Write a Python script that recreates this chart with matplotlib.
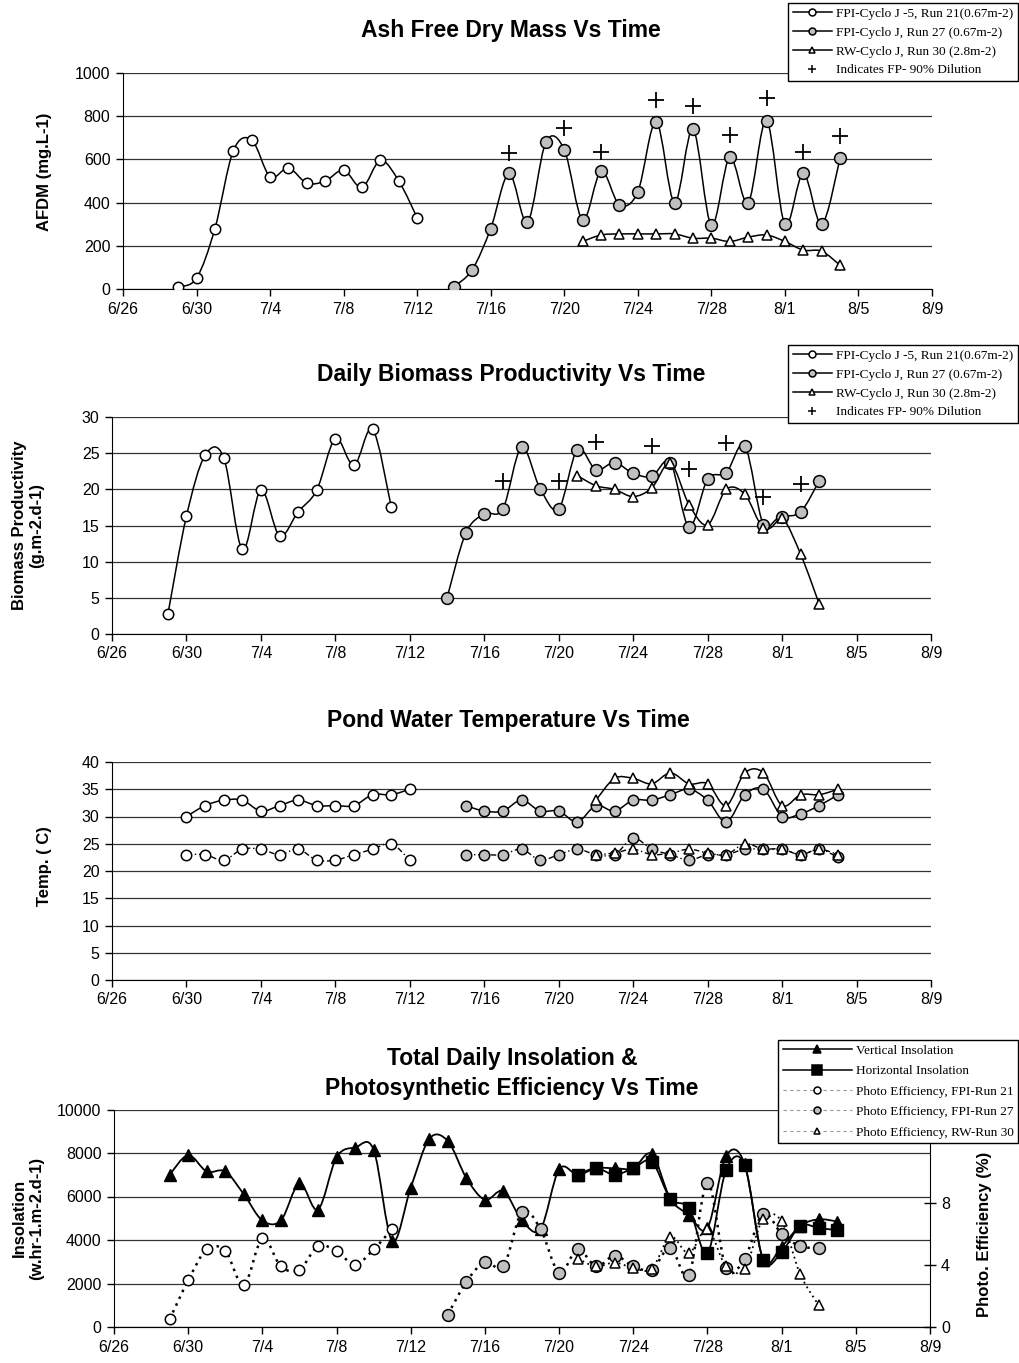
import numpy as np
import matplotlib
matplotlib.use("Agg")
import matplotlib.pyplot as plt
from matplotlib.lines import Line2D
from matplotlib.path import Path
from matplotlib.patches import PathPatch

plt.rcParams['font.family'] = ['Liberation Sans', 'DejaVu Sans']

# ── Data ───────────────────────────────────────────────────────────────────
DATES = ['6/29', '6/30', '7/1', '7/2', '7/3', '7/4', '7/5', '7/6', '7/7', '7/8',
         '7/9', '7/10', '7/11', '7/12', '7/13', '7/14', '7/15', '7/16', '7/17',
         '7/18', '7/19', '7/20', '7/21', '7/22', '7/23', '7/24', '7/25', '7/26',
         '7/27', '7/28', '7/29', '7/30', '7/31', '8/1', '8/2', '8/3', '8/4']
XTICK_LABELS = ['6/26', '6/30', '7/4', '7/8', '7/12', '7/16', '7/20', '7/24',
                '7/28', '8/1', '8/5', '8/9']

# Ash free dry mass (mg/L)
afdm_r21_start = '6/29'
afdm_r21 = [10, 50, 280, 640, 690, 520, 560, 490, 500, 550, 470, 595, 500, 330]
afdm_r27_start = '7/14'
afdm_r27 = [10, 90, 280, 535, 310, 680, 645, 320, 545, 390, 450, 775, 400, 740,
            295, 610, 400, 780, 300, 535, 300, 605]
afdm_r30_start = '7/21'
afdm_r30 = [220, 250, 255, 255, 255, 255, 235, 235, 220, 240, 250, 220, 180, 175, 110]
afdm_dil_dates = ['7/17', '7/20', '7/22', '7/25', '7/27', '7/29', '7/31', '8/2', '8/4']
afdm_dil = [630, 745, 635, 875, 845, 715, 885, 635, 710]

# Daily biomass productivity (g/m2/d)
prod_r21_start = '6/29'
prod_r21 = [2.7, 16.3, 24.7, 24.4, 11.7, 19.9, 13.6, 16.9, 19.9, 27.0, 23.3, 28.3, 17.6]
prod_r27_start = '7/14'
prod_r27 = [5.0, 13.9, 16.6, 17.3, 25.8, 20.1, 17.3, 25.5, 22.7, 23.7, 22.2, 21.8,
            23.7, 14.8, 21.4, 22.3, 26.0, 15.1, 16.2, 16.9, 21.2]
prod_r30_start = '7/21'
prod_r30 = [21.9, 20.5, 20.0, 19.0, 20.2, 23.6, 17.9, 15.1, 20.0, 19.3, 14.7, 16.0,
            11.0, 4.1]
prod_dil_dates = ['7/17', '7/20', '7/22', '7/25', '7/27', '7/29', '7/31', '8/2']
prod_dil = [21.2, 21.2, 26.6, 26.0, 22.8, 26.4, 19.0, 20.7]

# Pond water temperature (C): max (solid) and min (dashed)
temp_r21_start = '6/30'
temp_r21_max = [30, 32, 33, 33, 31, 32, 33, 32, 32, 32, 34, 34, 35]
temp_r21_min = [23, 23, 22, 24, 24, 23, 24, 22, 22, 23, 24, 25, 22]
temp_r27_start = '7/15'
temp_r27_max = [32, 31, 31, 33, 31, 31, 29, 32, 31, 33, 33, 34, 35, 33, 29, 34, 35,
                30, 30.5, 32, 34]
temp_r27_min = [23, 23, 23, 24, 22, 23, 24, 23, 23, 26, 24, 23, 22, 23, 23, 24, 24,
                24, 23, 24, 22.5]
temp_r30_start = '7/22'
temp_r30_max = [33, 37, 37, 36, 38, 36, 36, 32, 38, 38, 32, 34, 34, 35]
temp_r30_min = [23, 23.3, 24, 23, 23.3, 24, 23.3, 23, 25, 24, 24, 23, 24, 23]

# Insolation (w.hr/m2/d) and photosynthetic efficiency (%)
vert_start = '6/29'
vert_ins = [7000, 7900, 7150, 7150, 6100, 4900, 4900, 6600, 5400, 7800, 8250, 8150,
            3950, 6400, 8650, 8550, 6850, 5850, 6250, 4900, 4500, 7250, 7000, 7300,
            7300, 7300, 7950, 5900, 5150, 4550, 7850, 7500, 3100, 3700, 4650, 4950, 4850]
horiz_start = '7/21'
horiz_ins = [7000, 7300, 7000, 7300, 7600, 5900, 5450, 3400, 7200, 7450, 3100, 3450,
             4650, 4550, 4450]
eff_r21_start = '6/29'
eff_r21 = [0.5, 3.0, 5.0, 4.9, 2.7, 5.7, 3.9, 3.7, 5.2, 4.9, 4.0, 5.0, 6.3]
eff_r27_start = '7/14'
eff_r27 = [0.8, 2.9, 4.2, 3.9, 7.4, 6.3, 3.5, 5.0, 3.9, 4.6, 3.9, 3.7, 5.1, 3.35,
           9.3, 3.8, 4.4, 7.3, 6.0, 5.2, 5.1]
eff_r30_start = '7/21'
eff_r30 = [4.4, 3.9, 4.15, 3.8, 3.75, 5.8, 4.75, 6.3, 3.9, 3.75, 6.95, 6.8, 3.4, 1.4]


def to_day(s):
    m, d = map(int, s.split('/'))
    return {6: -26, 7: 4, 8: 35}[m] + d


def xs_from(start, vals):
    i0 = DATES.index(start)
    return np.array([to_day(s) for s in DATES[i0:i0 + len(vals)]], dtype=float)


def smooth(ax, x, y, **kw):
    # Excel-style smoothed line: cubic Bezier segments through the points
    pts = np.column_stack([x, y]).astype(float)
    n = len(pts)
    verts, codes = [pts[0]], [Path.MOVETO]
    for i in range(n - 1):
        p0 = pts[i - 1] if i > 0 else pts[i]
        p1, p2 = pts[i], pts[i + 1]
        p3 = pts[i + 2] if i + 2 < n else pts[i + 1]
        verts += [p1 + (p2 - p0) / 6, p2 - (p3 - p1) / 6, p2]
        codes += [Path.CURVE4] * 3
    ax.add_patch(PathPatch(Path(verts, codes), fill=False, **kw))


GRAY = '#c0c0c0'
W, H = 1020, 1363
TICK_FS = 11.5


def box(l, t, r, b):
    return [l / W, 1 - b / H, (r - l) / W, (b - t) / H]


def style(ax, ymax, ystep):
    ax.set_xlim(0, 44)
    ax.set_ylim(0, ymax)
    ax.set_xticks(np.arange(0, 45, 4))
    ax.set_xticklabels(XTICK_LABELS)
    ax.set_yticks(np.arange(0, ymax + ystep / 2, ystep))
    ax.yaxis.grid(True, color='#333333', lw=0.9)
    ax.set_axisbelow(True)
    ax.spines[['top', 'right']].set_visible(False)
    ax.tick_params(direction='out', length=5, width=1, labelsize=TICK_FS, pad=4)


def circles(ax, x, y, fc, ms=7.5, ls='-', lw=1.1, marker='o'):
    smooth(ax, x, y, ec='black', lw=lw, ls=ls, zorder=3)
    ax.plot(x, y, ls='none', marker=marker, ms=ms, mfc=fc, mec='black', mew=1.1, zorder=4)


fig = plt.figure(figsize=(W / 100, H / 100), dpi=100)

# ── Panel 1: AFDM ──────────────────────────────────────────────────────────
ax1 = fig.add_axes(box(123, 73, 932, 289))
style(ax1, 1000, 200)
circles(ax1, xs_from(afdm_r21_start, afdm_r21), afdm_r21, 'white')
circles(ax1, xs_from(afdm_r27_start, afdm_r27), afdm_r27, GRAY, ms=8.5)
circles(ax1, xs_from(afdm_r30_start, afdm_r30), afdm_r30, 'white', ms=7, marker='^')
ax1.plot([to_day(d) for d in afdm_dil_dates], afdm_dil, ls='none', marker='+',
         ms=11, mew=1.3, color='black', zorder=5)

# ── Panel 2: productivity ──────────────────────────────────────────────────
ax2 = fig.add_axes(box(112, 417, 931, 634))
style(ax2, 30, 5)
circles(ax2, xs_from(prod_r21_start, prod_r21), prod_r21, 'white')
circles(ax2, xs_from(prod_r27_start, prod_r27), prod_r27, GRAY, ms=8.5)
circles(ax2, xs_from(prod_r30_start, prod_r30), prod_r30, 'white', ms=7, marker='^')
ax2.plot([to_day(d) for d in prod_dil_dates], prod_dil, ls='none', marker='+',
         ms=11, mew=1.3, color='black', zorder=5)

# ── Panel 3: temperature ───────────────────────────────────────────────────
ax3 = fig.add_axes(box(112, 762, 931, 980))
style(ax3, 40, 5)
dash = (0, (4, 2, 1, 2))
for start, vmax, vmin, fc, mk in [(temp_r21_start, temp_r21_max, temp_r21_min, 'white', 'o'),
                                  (temp_r27_start, temp_r27_max, temp_r27_min, GRAY, 'o'),
                                  (temp_r30_start, temp_r30_max, temp_r30_min, 'white', '^')]:
    circles(ax3, xs_from(start, vmax), vmax, fc, ms=7.5, marker=mk)
    circles(ax3, xs_from(start, vmin), vmin, fc, ms=7.5, marker=mk, ls=dash, lw=1.0)

# ── Panel 4: insolation & efficiency ───────────────────────────────────────
ax4 = fig.add_axes(box(114, 1109.5, 930, 1327))
style(ax4, 10000, 2000)
xv = xs_from(vert_start, vert_ins)
smooth(ax4, xv, vert_ins, ec='black', lw=1.3, zorder=3)
ax4.plot(xv, vert_ins, ls='none', marker='^', ms=8, color='black', zorder=4)
xh = xs_from(horiz_start, horiz_ins)
smooth(ax4, xh, horiz_ins, ec='black', lw=1.3, zorder=3)
ax4.plot(xh, horiz_ins, ls='none', marker='s', ms=8, color='black', zorder=4)

ax4r = ax4.twinx()
ax4r.set_ylim(0, 14)
ax4r.set_yticks([0, 4, 8])
ax4r.spines[['top', 'left']].set_visible(False)
ax4r.tick_params(direction='inout', length=8, width=1, labelsize=TICK_FS, pad=4)
dot = (0, (1, 2))
circles(ax4r, xs_from(eff_r21_start, eff_r21), eff_r21, 'white', ls=dot, lw=1.8)
circles(ax4r, xs_from(eff_r27_start, eff_r27), eff_r27, GRAY, ms=8.5, ls=dot, lw=1.8)
circles(ax4r, xs_from(eff_r30_start, eff_r30), eff_r30, 'white', ms=7.5, marker='^', ls=dot, lw=1.3)

# ── Titles and axis labels ─────────────────────────────────────────────────
tkw = dict(ha='center', va='center', fontsize=16.5, fontweight='bold')
fig.text(511 / W, 1 - 30 / H, 'Ash Free Dry Mass Vs Time', **tkw)
fig.text(511 / W, 1 - 375 / H, 'Daily Biomass Productivity Vs Time', **tkw)
fig.text(508 / W, 1 - 720 / H, 'Pond Water Temperature Vs Time', **tkw)
fig.text(512 / W, 1 - 1058 / H, 'Total Daily Insolation &', **tkw)
fig.text(512 / W, 1 - 1088 / H, 'Photosynthetic Efficiency Vs Time', **tkw)

lkw = dict(ha='center', va='center', fontsize=12, fontweight='bold', rotation=90,
           multialignment='center')
fig.text(45 / W, 1 - 172 / H, 'AFDM (mg.L-1)', **lkw)
fig.text(28 / W, 1 - 525 / H, 'Biomass Productivity\n(g.m-2.d-1)', **lkw)
fig.text(45 / W, 1 - 866 / H, 'Temp. ( C)', **lkw)
fig.text(28 / W, 1 - 1218 / H, 'Insolation\n(w.hr-1.m-2.d-1)', **lkw)
fig.text(985 / W, 1 - 1234 / H, 'Photo. Efficiency (%)', **lkw)

# ── Legends ────────────────────────────────────────────────────────────────
def h(marker, fc, ls='-', color='black', ms=6, lw=1.1):
    return Line2D([0], [0], color=color, ls=ls, lw=lw, marker=marker, ms=ms,
                  mfc=fc, mec='black', mew=1.1)


leg_run = [h('o', 'white', ms=5), h('o', GRAY, ms=5), h('^', 'white', ms=5),
           h('+', 'black', ls='none', ms=6)]
lab_run = ['FPI-Cyclo J -5, Run 21(0.67m-2)', 'FPI-Cyclo J, Run 27 (0.67m-2)',
           'RW-Cyclo J, Run 30 (2.8m-2)', 'Indicates FP- 90% Dilution']
lgkw = dict(loc='upper right', prop={'family': 'Liberation Serif', 'size': 9.5},
            frameon=True, fancybox=False, edgecolor='black', framealpha=1,
            handlelength=3.0, labelspacing=0.5, borderpad=0.35, handletextpad=0.3,
            borderaxespad=0)
l1 = fig.legend(leg_run, lab_run, bbox_to_anchor=(1018 / W, 1 - 3 / H), **lgkw)
l1.get_frame().set_linewidth(1)
l2 = fig.legend(leg_run, lab_run, bbox_to_anchor=(1018 / W, 1 - 345 / H), **lgkw)
l2.get_frame().set_linewidth(1)

dash_leg = (0, (3, 3))
leg_ins = [h('^', 'black', ms=6), h('s', 'black', ms=7),
           h('o', 'white', ls=dash_leg, color='#999999', ms=5, lw=0.8),
           h('o', GRAY, ls=dash_leg, color='#999999', ms=5, lw=0.8),
           h('^', 'white', ls=dash_leg, color='#999999', ms=5, lw=0.8)]
lab_ins = ['Vertical Insolation', 'Horizontal Insolation', 'Photo Efficiency, FPI-Run 21',
           'Photo Efficiency, FPI-Run 27', 'Photo Efficiency, RW-Run 30']
l4 = fig.legend(leg_ins, lab_ins, bbox_to_anchor=(1018 / W, 1 - 1040 / H),
                **{**lgkw, 'handlelength': 5.2, 'labelspacing': 0.62})
l4.get_frame().set_linewidth(1)

fig.savefig('out.png', dpi=100)
